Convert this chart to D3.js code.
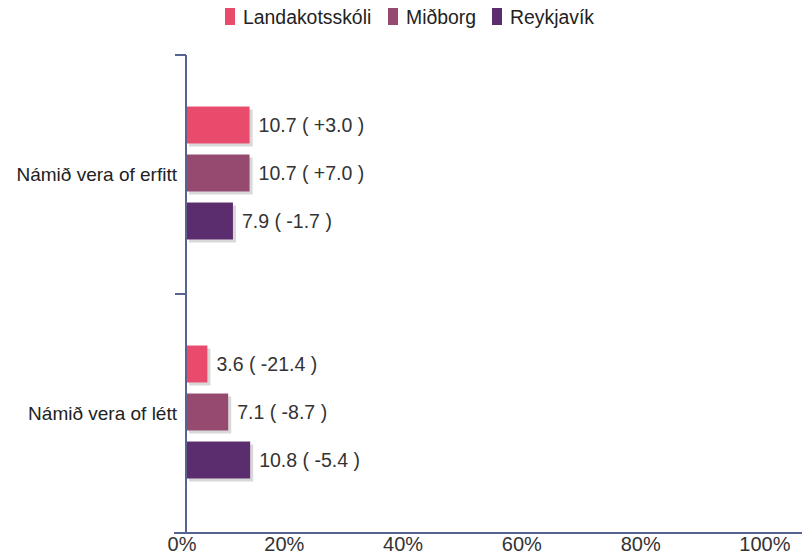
<!DOCTYPE html>
<html>
<head>
<meta charset="utf-8">
<script src="https://cdn.jsdelivr.net/npm/d3@7"></script>
<style>
  html, body { margin: 0; padding: 0; background: #fff; }
  svg text { font-family: "Liberation Sans", Arial, sans-serif; }
</style>
</head>
<body>
<svg id="chart" width="810" height="556"></svg>
<script>
// Answer categories (y axis)
const categories = ["Námið vera of erfitt", "Námið vera of létt"];
// Comparison groups (one bar each per category)
const seriesNames = ["Landakotsskóli", "Miðborg", "Reykjavík"];
const seriesColors = ["#e94b6c", "#974a6f", "#5b2c6e"];
// Percent values per series, in category order
const landakotsskoli = [10.7, 3.6];
const midborg = [10.7, 7.1];
const reykjavik = [7.9, 10.8];
// Change from previous measurement, shown in brackets
const landakotsskoliChange = ["+3.0", "-21.4"];
const midborgChange = ["+7.0", "-8.7"];
const reykjavikChange = ["-1.7", "-5.4"];
// X axis ticks
const xTicks = [0, 20, 40, 60, 80, 100];

const seriesValues = [landakotsskoli, midborg, reykjavik];
const seriesChanges = [landakotsskoliChange, midborgChange, reykjavikChange];

const svg = d3.select("#chart");
const margin = { left: 186, right: 30, top: 55, bottom: 23 };
const W = 810, H = 556;
const axisColor = "#56648f";

const x = d3.scaleLinear().domain([0, 100]).range([margin.left, W - margin.right]);
const y = d3.scaleBand().domain(categories).range([margin.top, H - margin.bottom]).padding(0);
const inner = d3.scaleBand().domain(seriesNames)
  .range([46, 190]).paddingInner(0.23).paddingOuter(0.115);

// Bars with a soft grey drop shadow
const rows = [];
categories.forEach((c, ci) => {
  seriesNames.forEach((s, si) => {
    rows.push({ cat: c, series: s, si, value: seriesValues[si][ci], change: seriesChanges[si][ci] });
  });
});

const g = svg.append("g");
g.selectAll("rect.shadow").data(rows).join("rect")
  .attr("class", "shadow")
  .attr("x", x(0) + 3)
  .attr("y", d => y(d.cat) + inner(d.series) + 3)
  .attr("width", d => x(d.value) - x(0))
  .attr("height", inner.bandwidth())
  .attr("fill", "#d8d8d8");

g.selectAll("rect.bar").data(rows).join("rect")
  .attr("class", "bar")
  .attr("x", x(0))
  .attr("y", d => y(d.cat) + inner(d.series))
  .attr("width", d => x(d.value) - x(0))
  .attr("height", inner.bandwidth())
  .attr("fill", d => seriesColors[d.si]);

g.selectAll("text.val").data(rows).join("text")
  .attr("class", "val")
  .attr("x", d => x(d.value) + 9)
  .attr("y", d => y(d.cat) + inner(d.series) + inner.bandwidth() / 2)
  .attr("dy", "0.35em")
  .attr("font-size", 19.5)
  .attr("fill", "#333")
  .text(d => `${d.value.toFixed(1)} ( ${d.change} )`);

// X axis
const xAxis = svg.append("g")
  .attr("transform", `translate(0,${H - margin.bottom})`)
  .call(d3.axisBottom(x).tickValues(xTicks).tickFormat(d => d + "%").tickSize(0).tickPadding(4));
xAxis.select(".domain").remove();
xAxis.append("line")
  .attr("x1", 174).attr("x2", W - 8)
  .attr("stroke", axisColor).attr("stroke-width", 2);
xAxis.selectAll(".tick text")
  .attr("font-size", 20).attr("fill", "#333")
  .attr("font-family", "Liberation Sans, Arial, sans-serif")
  .attr("text-anchor", "end")
  .attr("dx", d => d === 0 ? 10 : (d === 100 ? 10 : -1));

// Y axis with ticks at the category boundaries
const yAxis = svg.append("g");
yAxis.append("line")
  .attr("x1", x(0)).attr("x2", x(0))
  .attr("y1", margin.top).attr("y2", H - margin.bottom)
  .attr("stroke", axisColor).attr("stroke-width", 2);
const boundaries = categories.map(c => y(c));
yAxis.selectAll("line.tick").data(boundaries).join("line")
  .attr("class", "tick")
  .attr("x1", x(0) - 11).attr("x2", x(0))
  .attr("y1", d => d).attr("y2", d => d)
  .attr("stroke", axisColor).attr("stroke-width", 2);
yAxis.selectAll("text").data(categories).join("text")
  .attr("x", x(0) - 9)
  .attr("y", d => y(d) + y.bandwidth() / 2)
  .attr("dy", "0.35em")
  .attr("text-anchor", "end")
  .attr("font-size", 19)
  .attr("fill", "#222")
  .text(d => d);

// Legend
const legendX = [225, 388, 492];
const legend = svg.append("g");
seriesNames.forEach((s, i) => {
  legend.append("rect")
    .attr("x", legendX[i]).attr("y", 8)
    .attr("width", 10).attr("height", 17)
    .attr("fill", seriesColors[i]);
  legend.append("text")
    .attr("x", legendX[i] + 18).attr("y", 17)
    .attr("dy", "0.35em")
    .attr("font-size", 19.4)
    .attr("fill", "#222")
    .text(s);
});
</script>
</body>
</html>
